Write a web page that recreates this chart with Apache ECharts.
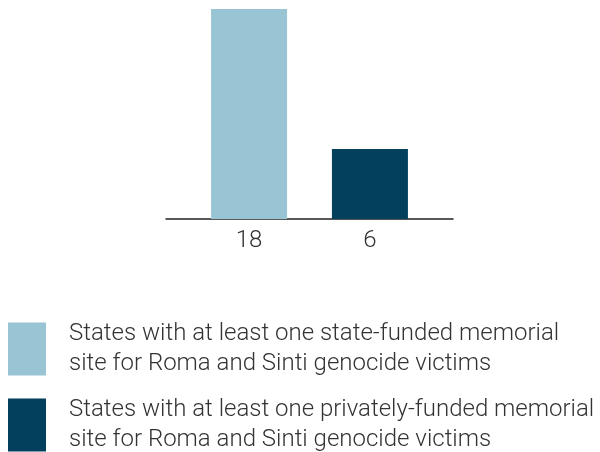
<!DOCTYPE html>
<html>
<head>
<meta charset="utf-8">
<script src="https://cdn.jsdelivr.net/npm/echarts@6/dist/echarts.min.js"></script>
<style>
html,body{margin:0;padding:0;background:#fff;}
#chart{width:600px;height:452px;}
</style>
</head>
<body>
<div id="chart"></div>
<script>
var categories = [''];
var seriesNames = [
  'States with at least one state-funded memorial\nsite for Roma and Sinti genocide victims',
  'States with at least one privately-funded memorial\nsite for Roma and Sinti genocide victims'
];
var stateFunded = [18];
var privatelyFunded = [6];
var colors = ['#99c4d4', '#02405e'];

var chart = echarts.init(document.getElementById('chart'), null, {renderer: 'canvas'});
var labelStyle = {
  show: true,
  position: 'bottom',
  distance: 10,
  fontFamily: 'Roboto',
  fontWeight: 300,
  fontSize: 24,
  color: '#333333'
};
chart.setOption({
  animation: false,
  color: colors,
  grid: {left: 166, right: 147, top: 9, bottom: 233, containLabel: false},
  legend: {
    orient: 'vertical',
    left: 8,
    top: 319,
    height: 200,
    padding: 0,
    itemWidth: 38,
    itemHeight: 53,
    itemGap: 16,
    icon: 'rect',
    selectedMode: false,
    textStyle: {
      fontFamily: 'Roboto',
      fontWeight: 300,
      fontSize: 24,
      lineHeight: 30,
      color: '#333333',
      padding: [0, 0, 0, 18]
    },
    data: seriesNames
  },
  xAxis: {
    type: 'category',
    data: categories,
    axisLine: {show: true, lineStyle: {color: '#222222', width: 1.5}},
    axisTick: {show: false},
    axisLabel: {show: false}
  },
  yAxis: {
    type: 'value',
    min: 0,
    max: 18,
    show: false,
    splitLine: {show: false}
  },
  series: [
    {name: seriesNames[0], type: 'bar', data: stateFunded, barWidth: 76, barGap: '59%', label: labelStyle},
    {name: seriesNames[1], type: 'bar', data: privatelyFunded, barWidth: 76, barGap: '59%', label: labelStyle}
  ]
});
</script>
</body>
</html>
